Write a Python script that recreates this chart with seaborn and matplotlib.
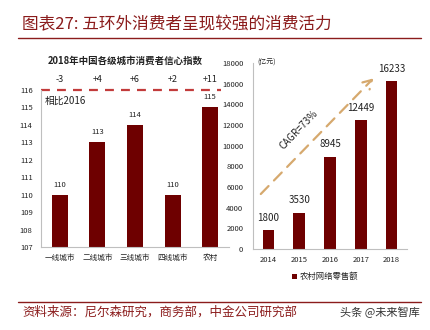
import matplotlib
matplotlib.use("Agg")
import matplotlib.pyplot as plt
import seaborn as sns
import pandas as pd
import numpy as np

# Consumer confidence index by city tier (2018) and change vs 2016
tiers = ["一线城市", "二线城市", "三线城市", "四线城市", "农村"]
confidence = [110, 113, 114, 110, 115]
change_vs_2016 = ["-3", "+4", "+6", "+2", "+11"]
ref_level = 116

# Rural online retail sales (100 million yuan)
years = ["2014", "2015", "2016", "2017", "2018"]
rural_sales = [1800, 3530, 8945, 12449, 16233]
cagr_label = "CAGR=73%"

sns.set_theme(style="white")
plt.rcParams["font.family"] = ["Noto Sans CJK SC", "DejaVu Sans"]

BAR = "#6e0000"
RED = "#8b1c1c"
GRID = "#bfbfbf"
TXT = "#222222"

fig = plt.figure(figsize=(4.3, 3.3), dpi=100)
W, H = 430, 330


def px_axes(x0, y_top, x1, y_bot):
    return fig.add_axes([x0 / W, 1 - y_bot / H, (x1 - x0) / W, (y_bot - y_top) / H])


# ---- left panel: confidence index ----
df1 = pd.DataFrame({"tier": tiers, "val": confidence})
ax1 = px_axes(41, 90, 229, 247)
sns.barplot(data=df1, x="tier", y="val", color=BAR, width=0.43, saturation=1,
            linewidth=0, ax=ax1)
ax1.set_ylim(107, 116)
ax1.set_xlim(-0.5, 4.5)
ax1.set_yticks(range(107, 117))
ax1.set_xlabel("")
ax1.set_ylabel("")
for s in ["top", "right"]:
    ax1.spines[s].set_visible(False)
for s in ["left", "bottom"]:
    ax1.spines[s].set_color(GRID)
    ax1.spines[s].set_linewidth(0.8)
ax1.tick_params(axis="y", length=0, labelsize=5.5, labelcolor=TXT, pad=6)
ax1.tick_params(axis="x", length=0, labelsize=5.5, labelcolor=TXT, pad=5)
ax1.set_xticks(np.arange(-0.5, 4.6, 1), minor=True)
ax1.tick_params(axis="x", which="minor", length=3, color=GRID, direction="out")
for i, v in enumerate(confidence):
    ax1.text(i, v + 0.35, str(v), ha="center", va="bottom", fontsize=5.5, color=TXT)
ax1.axhline(ref_level, xmin=0, xmax=0.96, color="#c23b3b", lw=1.6,
            ls=(0, (4, 3.2)), clip_on=False)
for i, t in enumerate(change_vs_2016):
    ax1.annotate(t, (i, ref_level), xytext=(0, 7.5), textcoords="offset points",
                 ha="center", va="center", fontsize=6.5, color=TXT,
                 annotation_clip=False)
ax1.text(0.02, 0.93, "相比2016", transform=ax1.transAxes, fontsize=7,
         color=TXT, ha="left", va="center")
fig.text(125 / W, 1 - 61 / H, "2018年中国各级城市消费者信心指数", ha="center",
         va="center", fontsize=6.8, fontweight="bold", color=TXT)

# ---- right panel: rural online retail ----
df2 = pd.DataFrame({"year": years, "sales": rural_sales})
ax2 = px_axes(253, 63, 407, 249)
sns.barplot(data=df2, x="year", y="sales", color=BAR, width=0.38, saturation=1,
            linewidth=0, ax=ax2, label="农村网络零售额")
ax2.set_ylim(0, 18000)
ax2.set_xlim(-0.47, 4.5)
ax2.set_yticks(range(0, 18001, 2000))
ax2.set_xlabel("")
ax2.set_ylabel("")
for s in ["top", "right"]:
    ax2.spines[s].set_visible(False)
for s in ["left", "bottom"]:
    ax2.spines[s].set_color(GRID)
    ax2.spines[s].set_linewidth(0.8)
ax2.tick_params(axis="y", length=0, labelsize=5.5, labelcolor=TXT, pad=7)
ax2.tick_params(axis="x", length=0, labelsize=5.5, labelcolor=TXT, pad=5)
ax2.set_xticks(np.arange(-0.5, 4.6, 1), minor=True)
ax2.tick_params(axis="x", which="minor", length=3, color=GRID, direction="out")
for i, v in enumerate(rural_sales):
    ax2.text(i, v + 700, str(v), ha="center", va="bottom", fontsize=7, color=TXT)
ax2.text(0.03, 1.0, "(亿元)", transform=ax2.transAxes, fontsize=5, color=TXT,
         ha="left", va="center")

# growth arrow
ax2.annotate("", xy=(3.47, 16700), xytext=(-0.31, 5130),
             arrowprops=dict(arrowstyle="->,head_length=0.5,head_width=0.3",
                             color="#d6a96e", lw=1.6, ls=(0, (5, 3.5))))
ax2.text(0.97, 11565, cagr_label, rotation=46, ha="center", va="center",
         fontsize=7, color=TXT, rotation_mode="anchor")

leg = ax2.legend(loc="center", bbox_to_anchor=(0.47, -0.15), frameon=False,
                 fontsize=6, handlelength=0.6, handleheight=0.6, handletextpad=0.3,
                 borderaxespad=0)
for t in leg.get_texts():
    t.set_color(TXT)

# ---- header and footer ----
fig.text(22 / W, 1 - 25 / H, "图表27: 五环外消费者呈现较强的消费活力", ha="left",
         va="center", fontsize=12, color=RED, style="italic")
fig.add_artist(plt.Line2D([18 / W, 421 / W], [1 - 38 / H, 1 - 38 / H],
                          color=RED, lw=1.0))
fig.add_artist(plt.Line2D([18 / W, 421 / W], [1 - 302 / H, 1 - 302 / H],
                          color=RED, lw=1.0))
fig.text(22 / W, 1 - 312 / H, "资料来源：尼尔森研究，商务部，中金公司研究部",
         ha="left", va="center", fontsize=9, color=RED, style="italic")
fig.text(420 / W, 1 - 312 / H, "头条 @未来智库", ha="right", va="center",
         fontsize=8, color="#333333")

fig.savefig("out.png", dpi=100, facecolor="white")
